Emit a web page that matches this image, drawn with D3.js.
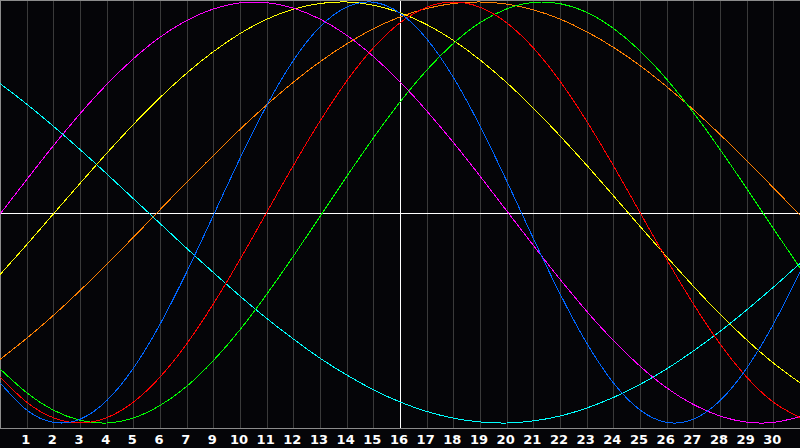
<!DOCTYPE html>
<html>
<head>
<meta charset="utf-8">
<script src="https://cdn.jsdelivr.net/npm/d3@7"></script>
<style>
  html, body { margin: 0; padding: 0; background: #050508; }
  svg { display: block; }
</style>
</head>
<body>
<svg id="chart" width="800" height="448"></svg>
<script>
// day index 0..30 across the window
const days = d3.range(0, 31);

// labels under the grid lines (8 is skipped in the original)
const tickLabels = ["1","2","3","4","5","6","7","9","10","11","12","13","14","15","16",
  "17","18","19","20","21","22","23","24","25","26","27","28","29","30"];

// cycle values, one per day
const physical = [-0.809,-0.938,-0.997,-0.982,-0.894,-0.740,-0.531,-0.283,-0.014,0.257,0.508,
  0.722,0.882,0.976,0.999,0.947,0.825,0.642,0.411,0.150,-0.123,-0.386,-0.620,-0.809,-0.938,
  -0.997,-0.982,-0.894,-0.740,-0.531,-0.283];
const emotional = [-0.782,-0.901,-0.975,-1.000,-0.975,-0.901,-0.782,-0.624,-0.434,-0.223,0.000,
  0.223,0.434,0.624,0.782,0.901,0.975,1.000,0.975,0.901,0.782,0.624,0.434,0.223,0.000,
  -0.223,-0.434,-0.624,-0.782,-0.901,-0.975];
const intellectual = [-0.743,-0.856,-0.939,-0.987,-1.000,-0.976,-0.917,-0.826,-0.704,-0.557,-0.389,
  -0.208,-0.019,0.171,0.354,0.525,0.676,0.803,0.902,0.967,0.998,0.992,0.951,0.875,0.768,
  0.633,0.475,0.300,0.114,-0.076,-0.263];
const intuitive = [-0.008,0.156,0.317,0.469,0.608,0.730,0.833,0.912,0.967,0.996,0.997,
  0.971,0.919,0.842,0.741,0.621,0.483,0.333,0.173,0.008,-0.156,-0.317,-0.469,-0.608,-0.730,
  -0.833,-0.912,-0.967,-0.996,-0.997,-0.971];
const aesthetic = [-0.295,-0.153,-0.007,0.138,0.281,0.418,0.546,0.662,0.764,0.850,0.918,
  0.966,0.993,1.000,0.985,0.949,0.893,0.818,0.725,0.617,0.496,0.364,0.225,0.080,-0.066,
  -0.210,-0.350,-0.483,-0.605,-0.715,-0.809];
const awareness = [-0.698,-0.598,-0.489,-0.371,-0.246,-0.118,0.013,0.144,0.271,0.395,0.511,
  0.619,0.716,0.801,0.873,0.929,0.969,0.993,1.000,0.990,0.963,0.919,0.859,0.785,0.698,
  0.598,0.489,0.371,0.246,0.118,-0.013];
const spiritual = [0.613,0.515,0.410,0.299,0.184,0.066,-0.052,-0.170,-0.285,-0.397,-0.503,
  -0.601,-0.692,-0.772,-0.842,-0.900,-0.945,-0.977,-0.995,-1.000,-0.990,-0.967,-0.929,-0.879,-0.817,
  -0.743,-0.658,-0.565,-0.463,-0.355,-0.242];

const seriesNames = ["spiritual","awareness","aesthetic","intuitive","intellectual","emotional","physical"];
const seriesValues = [spiritual, awareness, aesthetic, intuitive, intellectual, emotional, physical];
const seriesColors = ["#00ffff","#ff8000","#ffff00","#ff00ff","#00ff00","#ff0000","#0066ff"];

const todayIndex = 15;

class Biorhythm {
    constructor() {
        this.svg = d3.select("#chart");
        this.plotBottom = 428;

        this.x = d3.scaleLinear().domain([0, 30]).range([0, 800]);
        this.y = d3.scaleLinear().domain([-1, 1]).range([423, 2]);

        this.DrawFrame();
        this.DrawCurves();
        this.DrawLabels();
    }

    DrawFrame() {
        let svg = this.svg;

        svg.append("rect")
        .attr("width", 800)
        .attr("height", 448)
        .attr("fill", "#050508");

        // vertical day lines
        svg.append("g")
        .selectAll("line")
        .data(d3.range(1, 30))
        .join("line")
        .attr("x1", d => Math.round(this.x(d)) + 0.5)
        .attr("x2", d => Math.round(this.x(d)) + 0.5)
        .attr("y1", 0)
        .attr("y2", this.plotBottom)
        .attr("stroke", "#3a3a3a")
        .attr("stroke-width", 1)
        .attr("shape-rendering", "crispEdges");

        // border: top, left, bottom
        svg.append("path")
        .attr("d", `M800,0.5 H0.5 V${this.plotBottom + 0.5} H800`)
        .attr("fill", "none")
        .attr("stroke", "#8c8c8c")
        .attr("stroke-width", 1)
        .attr("shape-rendering", "crispEdges");

        // zero line and today line
        svg.append("line")
        .attr("x1", 1)
        .attr("x2", 800)
        .attr("y1", Math.round(this.y(0)) + 0.5)
        .attr("y2", Math.round(this.y(0)) + 0.5)
        .attr("stroke", "#ffffff")
        .attr("shape-rendering", "crispEdges");

        svg.append("line")
        .attr("x1", this.x(todayIndex) + 0.5)
        .attr("x2", this.x(todayIndex) + 0.5)
        .attr("y1", 1)
        .attr("y2", this.plotBottom)
        .attr("stroke", "#ffffff")
        .attr("shape-rendering", "crispEdges");
    }

    DrawCurves() {
        let line = d3.line()
        .x((d, i) => this.x(days[i]))
        .y(d => this.y(d))
        .curve(d3.curveNatural);

        this.svg.append("g")
        .selectAll("path")
        .data(seriesValues)
        .join("path")
        .attr("class", (d, i) => seriesNames[i])
        .attr("d", d => line(d))
        .attr("fill", "none")
        .attr("stroke", (d, i) => seriesColors[i])
        .attr("stroke-width", 1)
        .attr("shape-rendering", "crispEdges");
    }

    DrawLabels() {
        this.svg.append("g")
        .selectAll("text")
        .data(tickLabels)
        .join("text")
        .text(d => d)
        .attr("x", (d, i) => this.x(i + 1) - 1)
        .attr("y", 444)
        .attr("fill", "#ffffff")
        .style("font-family", "'DejaVu Sans', sans-serif")
        .style("font-weight", "bold")
        .style("font-size", "13px")
        .style("text-anchor", "middle");
    }
}

new Biorhythm();
</script>
</body>
</html>
